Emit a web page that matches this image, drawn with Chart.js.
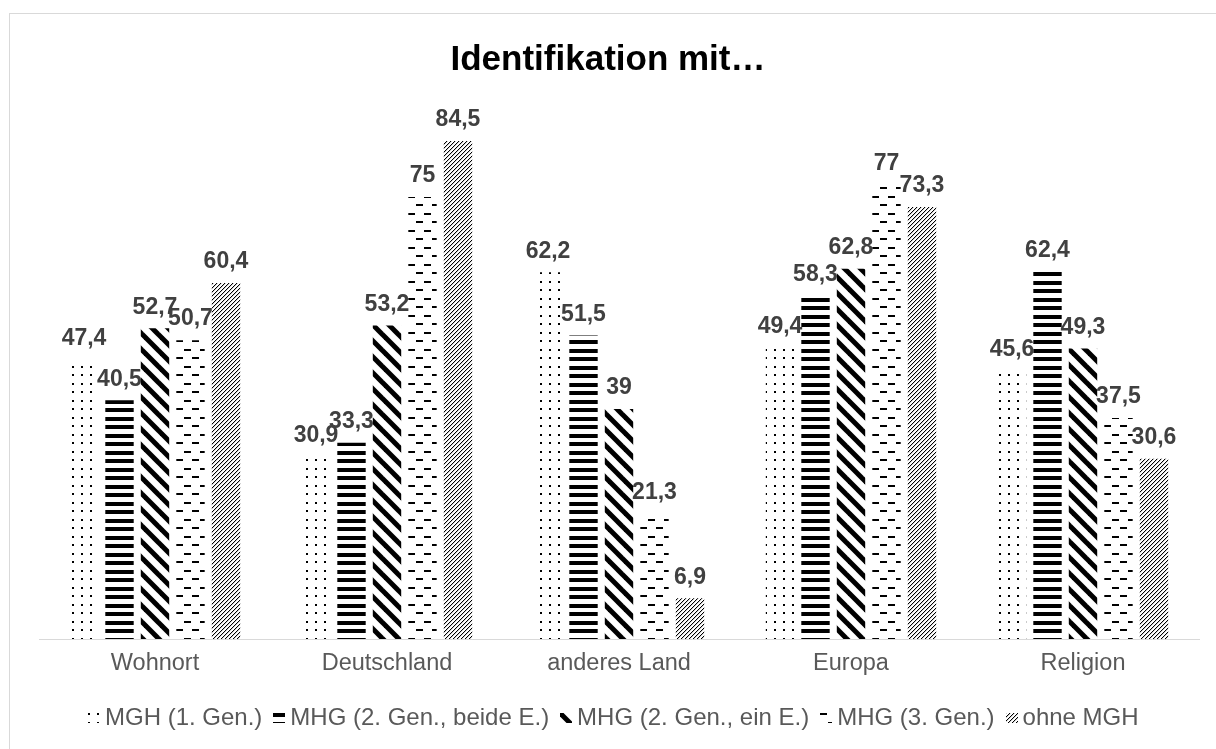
<!DOCTYPE html>
<html>
<head>
<meta charset="utf-8">
<script src="https://cdn.jsdelivr.net/npm/chart.js@4/dist/chart.umd.min.js"></script>
<style>
  html, body { margin: 0; padding: 0; background: #fff; overflow: hidden; }
  #frame {
    position: absolute; left: 9px; top: 13px;
    width: 1300px; height: 800px;
    border: 1px solid #d9d9d9;
  }
  #wrap { position: absolute; left: 0; top: 0; width: 1216px; height: 749px; }
</style>
</head>
<body>
<div id="frame"></div>
<div id="wrap"><canvas id="chart" width="1216" height="749"></canvas></div>
<script>
// Categories and series
const categories = ['Wohnort', 'Deutschland', 'anderes Land', 'Europa', 'Religion'];
const seriesNames = ['MGH (1. Gen.)', 'MHG (2. Gen., beide E.)', 'MHG (2. Gen., ein E.)', 'MHG (3. Gen.)', 'ohne MGH'];
const mgh1Gen = [47.4, 30.9, 62.2, 49.4, 45.6];
const mhg2GenBeide = [40.5, 33.3, 51.5, 58.3, 62.4];
const mhg2GenEin = [52.7, 53.2, 39, 62.8, 49.3];
const mhg3Gen = [50.7, 75, 21.3, 77, 37.5];
const ohneMgh = [60.4, 84.5, 6.9, 73.3, 30.6];

const FONT = "'Liberation Sans', Arial, sans-serif";
const canvas = document.getElementById('chart');
const ctx = canvas.getContext('2d');

// small tiles used as fill patterns
function makePattern(w, h, draw) {
  const c = document.createElement('canvas');
  c.width = w; c.height = h;
  const g = c.getContext('2d');
  g.fillStyle = '#fff';
  g.fillRect(0, 0, w, h);
  g.fillStyle = '#000';
  g.strokeStyle = '#000';
  draw(g, w, h);
  return ctx.createPattern(c, 'repeat');
}

const dotted = makePattern(9, 17, (g) => {
  g.fillRect(0, 0, 2, 2);
  g.fillRect(0, 9, 2, 2);
});

const horizontal = makePattern(4, 17, (g) => {
  g.fillRect(0, 0, 4, 4);
  g.fillRect(0, 9, 4, 4);
});

const wideDiagonal = makePattern(16, 16, (g, w, h) => {
  g.lineWidth = 5;
  for (let k = -1; k <= 1; k++) {
    g.beginPath();
    g.moveTo(k * w - 4, -4);
    g.lineTo(k * w + w + 4, h + 4);
    g.stroke();
  }
});

const dashed = makePattern(16, 17, (g) => {
  g.fillRect(0, 0, 7, 2);
  g.fillRect(8, 9, 7, 2);
});

const hatch = makePattern(4, 4, (g) => {
  for (let i = 0; i < 4; i++) {
    g.fillStyle = '#000';
    g.fillRect(3 - i, i, 1, 1);
    g.fillStyle = '#d0d0d0';
    g.fillRect((4 - i) % 4, i, 1, 1);
  }
});

const fills = [dotted, horizontal, wideDiagonal, dashed, hatch];
const seriesData = [mgh1Gen, mhg2GenBeide, mhg2GenEin, mhg3Gen, ohneMgh];

// value labels above the bars
const valueLabels = {
  id: 'valueLabels',
  afterDatasetsDraw(chart) {
    const c = chart.ctx;
    c.save();
    c.font = 'bold 23px ' + FONT;
    c.fillStyle = '#404040';
    c.textAlign = 'center';
    c.textBaseline = 'middle';
    chart.data.datasets.forEach((ds, di) => {
      chart.getDatasetMeta(di).data.forEach((bar, i) => {
        const txt = String(ds.data[i]).replace('.', ',');
        c.fillText(txt, bar.x, bar.y - 21);
      });
    });
    c.restore();
  }
};

// legend drawn like the office one: small swatch, short gap, text
const officeLegend = {
  id: 'officeLegend',
  afterDraw(chart) {
    const c = chart.ctx;
    const boxW = 12, boxH = 10, gap = 5, itemGap = 11;
    const y = 718, centerX = 613;
    c.save();
    c.font = '24px ' + FONT;
    c.textBaseline = 'middle';
    c.textAlign = 'left';
    const items = chart.data.datasets.map(ds => ({
      text: ds.label, fill: ds.backgroundColor, w: c.measureText(ds.label).width
    }));
    const total = items.reduce((s, it) => s + boxW + gap + it.w, 0) + itemGap * (items.length - 1);
    let x = Math.round(centerX - total / 2);
    items.forEach(it => {
      // anchor the pattern at the swatch corner
      c.save();
      c.translate(Math.round(x), Math.round(y - boxH / 2));
      c.fillStyle = it.fill;
      c.fillRect(0, 0, boxW, boxH);
      c.restore();
      x += boxW + gap;
      c.fillStyle = '#595959';
      c.fillText(it.text, x, y);
      x += it.w + itemGap;
    });
    c.restore();
  }
};

new Chart(ctx, {
  type: 'bar',
  data: {
    labels: categories,
    datasets: seriesNames.map((name, i) => ({
      label: name,
      data: seriesData[i],
      backgroundColor: fills[i],
      borderWidth: 0,
      categoryPercentage: 0.765,
      barPercentage: 0.8
    }))
  },
  options: {
    responsive: false,
    animation: false,
    layout: { padding: 0 },
    plugins: {
      title: {
        display: true,
        text: 'Identifikation mit…',
        color: '#000',
        font: { family: FONT, size: 35, weight: 'bold' },
        padding: { top: 39, bottom: 27.5 }
      },
      legend: { display: false },
      tooltip: { enabled: false }
    },
    scales: {
      x: {
        grid: { display: false, drawTicks: false },
        border: { display: true, color: '#d9d9d9', width: 1 },
        ticks: { color: '#595959', font: { family: FONT, size: 23.5 }, padding: 10 },
        afterFit(scale) { scale.height = 110; }
      },
      y: {
        min: 0,
        max: 90,
        grid: { display: false, drawTicks: false },
        border: { display: false },
        ticks: { display: false },
        afterFit(scale) { scale.width = 39; }
      },
      yRight: {
        position: 'right',
        min: 0,
        max: 90,
        grid: { display: false, drawTicks: false },
        border: { display: false },
        ticks: { display: false },
        afterFit(scale) { scale.width = 17; }
      }
    }
  },
  plugins: [valueLabels, officeLegend]
});
</script>
</body>
</html>
